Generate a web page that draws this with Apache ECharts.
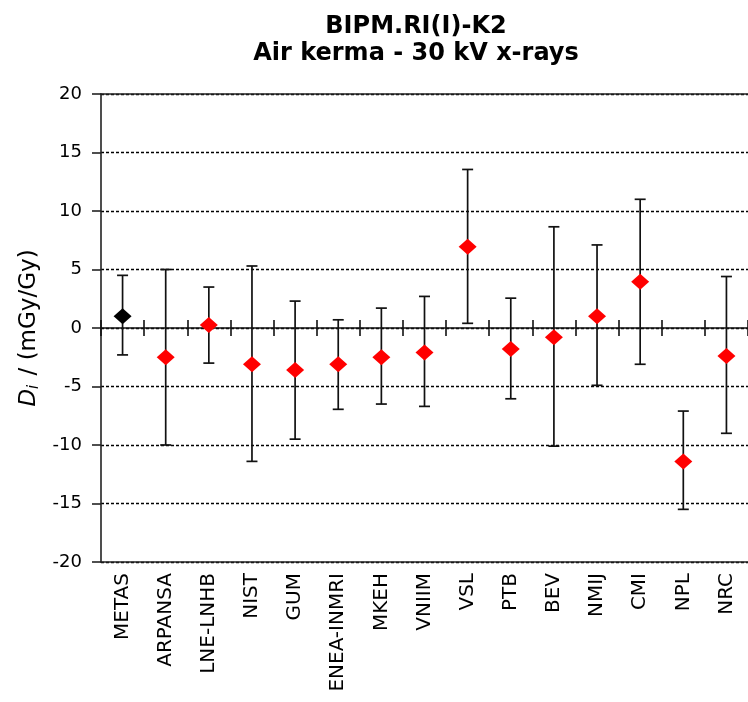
<!DOCTYPE html>
<html>
<head>
<meta charset="utf-8">
<script src="https://cdn.jsdelivr.net/npm/echarts@6/dist/echarts.min.js"></script>
<style>
html,body{margin:0;padding:0;background:#fff;}
#chart{width:748px;height:702px;}
</style>
</head>
<body>
<div id="chart"></div>
<script>
const categories = ['METAS','ARPANSA','LNE-LNHB','NIST','GUM','ENEA-INMRI','MKEH','VNIIM','VSL','PTB','BEV','NMIJ','CMI','NPL','NRC'];
const values = [1.0, -2.5, 0.25, -3.1, -3.6, -3.1, -2.5, -2.1, 6.95, -1.8, -0.8, 1.0, 3.95, -11.4, -2.4];
const upper = [4.5, 5.0, 3.5, 5.3, 2.3, 0.7, 1.7, 2.7, 13.55, 2.55, 8.65, 7.1, 11.0, -7.1, 4.4];
const lower = [-2.3, -10.0, -3.0, -11.4, -9.5, -6.95, -6.5, -6.7, 0.4, -6.05, -10.1, -4.9, -3.1, -15.5, -9.0];
const yTicks = [-20, -15, -10, -5, 0, 5, 10, 15, 20];

const FONT = '"DejaVu Sans", Verdana, sans-serif';
const chart = echarts.init(document.getElementById('chart'));

const errData = categories.map((c, i) => [i, lower[i], upper[i]]);
const ptData = categories.map((c, i) => [i, values[i]]);

const barStyle = { stroke: '#111', lineWidth: 1.7 };

chart.setOption({
  animation: false,
  backgroundColor: '#fff',
  title: {
    text: 'BIPM.RI(I)-K2\nAir kerma - 30 kV x-rays',
    left: 411,
    top: 8,
    textAlign: 'center',
    textStyle: { fontFamily: FONT, fontWeight: 'bold', fontSize: 24, lineHeight: 27, color: '#000' }
  },
  grid: { left: 101, right: -8, top: 94, bottom: 140, containLabel: false },
  xAxis: [
    {
      type: 'category', data: categories, position: 'bottom', boundaryGap: true,
      axisLine: { show: true, onZero: false, lineStyle: { color: '#222', width: 1.6 } },
      axisTick: { show: false },
      axisLabel: { rotate: 90, margin: 11, fontFamily: FONT, fontSize: 20, color: '#000', interval: 0 },
      splitLine: { show: false }
    },
    {
      type: 'category', data: categories, position: 'top', boundaryGap: true,
      axisLine: { show: true, onZero: false, lineStyle: { color: '#222', width: 1.6 } },
      axisTick: { show: false }, axisLabel: { show: false }, splitLine: { show: false }
    },
    {
      type: 'category', data: categories, position: 'bottom', boundaryGap: true,
      axisLine: { show: true, onZero: true, onZeroAxisIndex: 0, lineStyle: { color: '#111', width: 1.6 } },
      axisTick: { show: true, inside: false, length: 8, interval: 0, lineStyle: { color: '#111', width: 1.6 } },
      axisLabel: { show: false }, splitLine: { show: false }
    },
    {
      type: 'category', data: categories, position: 'top', boundaryGap: true,
      axisLine: { show: false, onZero: true, onZeroAxisIndex: 0 },
      axisTick: { show: true, inside: false, length: 8, interval: 0, lineStyle: { color: '#111', width: 1.6 } },
      axisLabel: { show: false }, splitLine: { show: false }
    }
  ],
  yAxis: {
    type: 'value', min: -20, max: 20, interval: 5,
    name: '{d|D}{i|i}{n| / (mGy/Gy)}',
    nameLocation: 'middle', nameRotate: 90, nameGap: 58,
    nameTextStyle: {
      fontFamily: FONT, fontSize: 23, color: '#000',
      rich: {
        d: { fontFamily: FONT, fontSize: 23, fontStyle: 'italic', color: '#000' },
        i: { fontFamily: FONT, fontSize: 15, fontStyle: 'italic', color: '#000', verticalAlign: 'bottom', padding: [10, 2, 0, 0] },
        n: { fontFamily: FONT, fontSize: 23, color: '#000' }
      }
    },
    axisLine: { show: true, lineStyle: { color: '#222', width: 1.6 } },
    axisTick: { show: true, length: 9, lineStyle: { color: '#222', width: 1.6 } },
    axisLabel: { margin: 19, fontFamily: FONT, fontSize: 18, color: '#000',
      formatter: v => yTicks.includes(v) ? String(v) : '' },
    splitLine: { show: true, lineStyle: { color: '#000', width: 1.3, type: [3, 2] } }
  },
  series: [
    {
      type: 'custom',
      xAxisIndex: 0, yAxisIndex: 0,
      data: errData,
      encode: { x: 0, y: [1, 2] },
      z: 3,
      renderItem: (params, api) => {
        const x = api.value(0);
        const lo = api.coord([x, api.value(1)]);
        const hi = api.coord([x, api.value(2)]);
        const w = 5.5;
        return {
          type: 'group',
          children: [
            { type: 'line', shape: { x1: hi[0], y1: hi[1], x2: lo[0], y2: lo[1] }, style: barStyle },
            { type: 'line', shape: { x1: hi[0] - w, y1: hi[1], x2: hi[0] + w, y2: hi[1] }, style: barStyle },
            { type: 'line', shape: { x1: lo[0] - w, y1: lo[1], x2: lo[0] + w, y2: lo[1] }, style: barStyle }
          ]
        };
      }
    },
    {
      type: 'scatter',
      xAxisIndex: 0, yAxisIndex: 0,
      data: ptData,
      symbol: 'diamond',
      symbolSize: [18, 16],
      z: 5,
      itemStyle: { color: p => p.dataIndex === 0 ? '#000000' : '#ff0000', opacity: 1 }
    }
  ]
});
</script>
</body>
</html>
